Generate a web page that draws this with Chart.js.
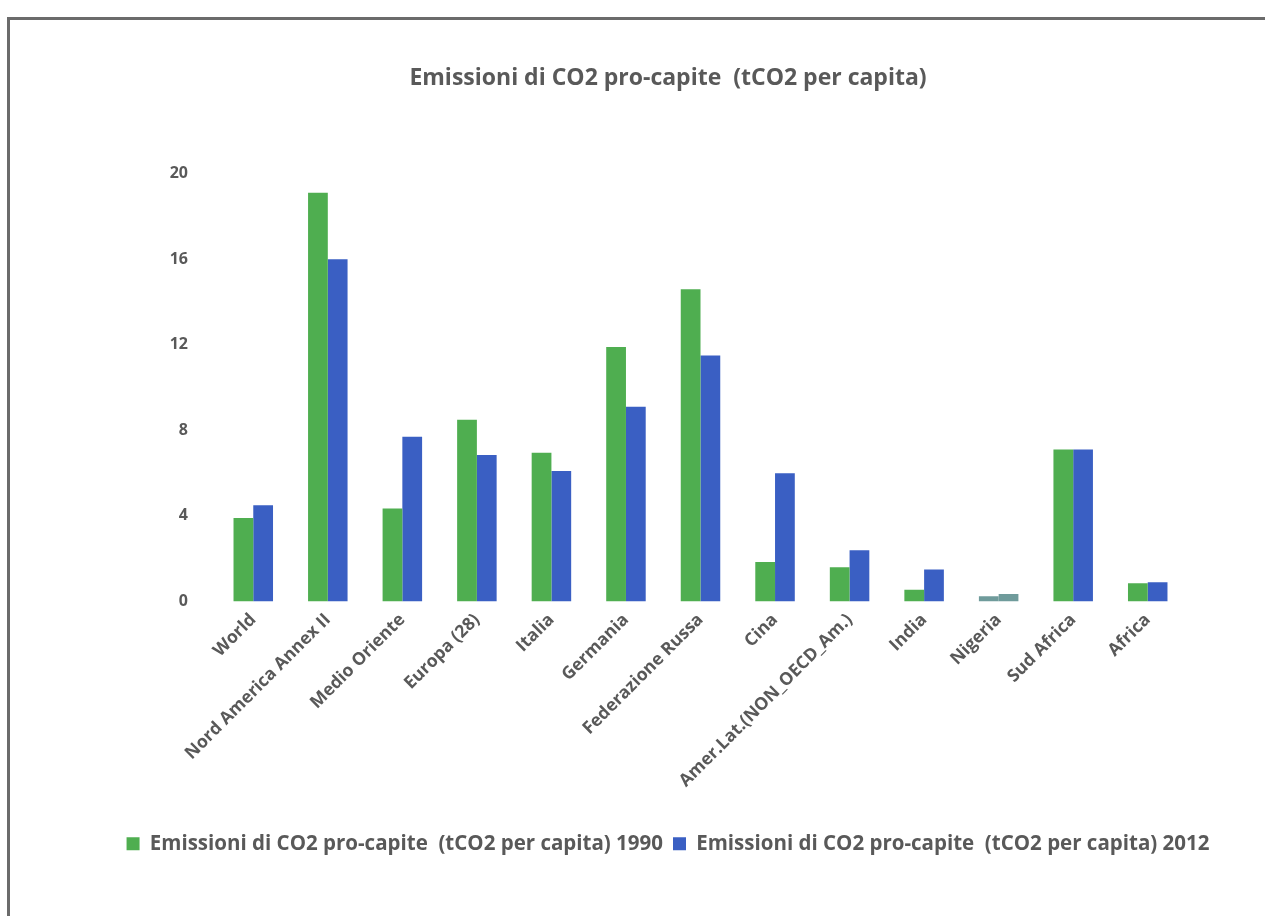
<!DOCTYPE html>
<html lang="it">
<head>
<meta charset="utf-8">
<title>Emissioni di CO2 pro-capite</title>
<script src="https://cdn.jsdelivr.net/npm/chart.js@4/dist/chart.umd.min.js"></script>
<style>
  html, body { margin: 0; padding: 0; background: #ffffff; }
  body { width: 1265px; height: 916px; position: relative; overflow: hidden; }
  #frame {
    position: absolute; left: 7px; top: 17px; width: 1265px; height: 910px;
    border-top: 3px solid #6b6b6b; border-left: 3px solid #6b6b6b;
  }
  #wrap { position: absolute; left: 70px; top: 0; width: 1196px; height: 864px; }
</style>
</head>
<body>
<div id="frame"></div>
<div id="wrap"><canvas id="chart"></canvas></div>
<script>
// Regions shown on the category axis
const categories = [
  "World", "Nord America Annex II", "Medio Oriente", "Europa (28)", "Italia",
  "Germania", "Federazione Russa", "Cina", "Amer.Lat.(NON_OECD_Am.)", "India",
  "Nigeria", "Sud Africa", "Africa"
];

// Per-capita CO2 emissions, tCO2 per person
const emissions1990 = [3.9, 19.1, 4.35, 8.5, 6.95, 11.9, 14.6, 1.85, 1.6, 0.55, 0.25, 7.1, 0.85];
const emissions2012 = [4.5, 16.0, 7.7, 6.85, 6.1, 9.1, 11.5, 6.0, 2.4, 1.5, 0.35, 7.1, 0.9];

const seriesLabels = [
  "Emissioni di CO2 pro-capite  (tCO2 per capita) 1990",
  "Emissioni di CO2 pro-capite  (tCO2 per capita) 2012"
];
const chartTitle = "Emissioni di CO2 pro-capite  (tCO2 per capita)";
const yTicks = [0, 4, 8, 12, 16, 20];

const GREEN = "#4fae50";
const BLUE = "#3a5fc3";
const NIGERIA_TINT = "#6f9b9b";
const TEXT = "#595959";
const FONT = "'Open Sans', Lato, sans-serif";

function barColor(base) {
  return ctx => categories[ctx.dataIndex] === "Nigeria" ? NIGERIA_TINT : base;
}

new Chart(document.getElementById("chart"), {
  type: "bar",
  data: {
    labels: categories,
    datasets: [
      { label: seriesLabels[0], data: emissions1990, backgroundColor: barColor(GREEN) },
      { label: seriesLabels[1], data: emissions2012, backgroundColor: barColor(BLUE) }
    ]
  },
  options: {
    responsive: true,
    maintainAspectRatio: false,
    animation: false,
    layout: { padding: 0 },
    datasets: { bar: { barPercentage: 1.0, categoryPercentage: 0.53 } },
    plugins: {
      title: {
        display: true,
        text: chartTitle,
        color: TEXT,
        font: { family: FONT, size: 23, weight: "bold" },
        padding: { top: 65, bottom: 81 }
      },
      legend: {
        position: "bottom",
        labels: {
          color: TEXT,
          font: { family: FONT, size: 20.5, weight: "bold" },
          boxWidth: 13,
          boxHeight: 13,
          padding: 10,
          generateLabels: chart => chart.data.datasets.map((ds, i) => ({
            text: ds.label,
            fillStyle: i === 0 ? GREEN : BLUE,
            strokeStyle: i === 0 ? GREEN : BLUE,
            lineWidth: 0,
            datasetIndex: i,
            fontColor: TEXT
          }))
        }
      },
      tooltip: { enabled: false }
    },
    scales: {
      x: {
        grid: { display: false },
        border: { display: false },
        afterFit: scale => { scale.height = 222; },
        ticks: {
          color: TEXT,
          font: { family: FONT, size: 17.5, weight: "bold" },
          maxRotation: 45,
          minRotation: 45,
          autoSkip: false,
          padding: 0
        }
      },
      y: {
        min: 0,
        max: 20,
        grid: { display: false },
        border: { display: false },
        afterFit: scale => { scale.width = 146; },
        afterBuildTicks: scale => { scale.ticks = yTicks.map(v => ({ value: v })); },
        ticks: {
          color: TEXT,
          font: { family: FONT, size: 16, weight: "bold" },
          padding: 20
        }
      },
      // empty right-hand margin, keeps title and legend centred on the page block
      margin: {
        type: "linear",
        position: "right",
        display: true,
        grid: { display: false },
        border: { display: false },
        ticks: { display: false },
        afterFit: scale => { scale.width = 81; }
      }
    }
  }
});
</script>
</body>
</html>
